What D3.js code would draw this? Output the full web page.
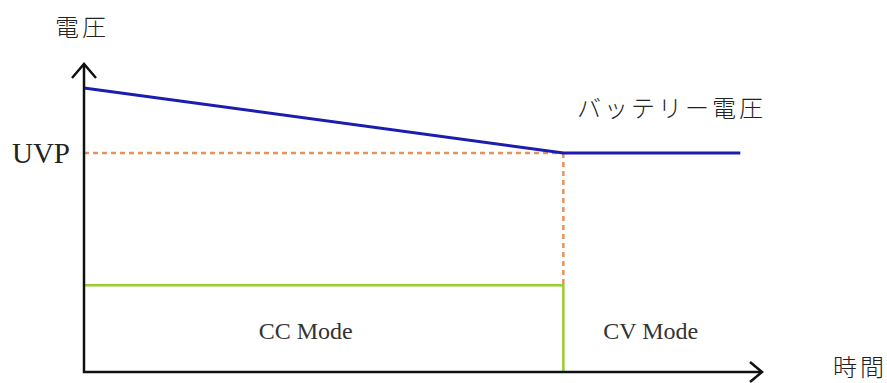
<!DOCTYPE html>
<html>
<head>
<meta charset="utf-8">
<script src="https://cdn.jsdelivr.net/npm/d3@7"></script>
<style>
  html, body { margin: 0; padding: 0; background: #fff; }
  svg { display: block; }
</style>
</head>
<body>
<div id="chart"></div>
<script>
/* CC / CV mode diagram: battery voltage over time */

const batteryTime = [0, 7.07, 9.68];
const batteryVolt = [9.22, 7.11, 7.11];
const uvpLevel = 7.11;
const switchTime = 7.07;
const ccLevel = 2.82;
const modeLabels = ["CC Mode", "CV Mode"];
const modeCenters = [3.27, 8.36];

const W = 887, H = 383;
const svg = d3.select("#chart").append("svg")
  .attr("width", W).attr("height", H);

const x = d3.scaleLinear().domain([0, 10]).range([84, 762]);
const y = d3.scaleLinear().domain([0, 10]).range([372, 64]);

const jp = "'Noto Sans CJK JP', sans-serif";
const serif = "'Liberation Serif', 'DejaVu Serif', serif";

/* Orange dashed UVP guides */
svg.append("line")
  .attr("x1", x(0)).attr("x2", x(switchTime))
  .attr("y1", y(uvpLevel)).attr("y2", y(uvpLevel))
  .attr("stroke", "#e8925a").attr("stroke-width", 2.5)
  .attr("stroke-dasharray", "5,4");
svg.append("line")
  .attr("x1", x(switchTime)).attr("x2", x(switchTime))
  .attr("y1", y(uvpLevel)).attr("y2", y(ccLevel))
  .attr("stroke", "#e8925a").attr("stroke-width", 2.5)
  .attr("stroke-dasharray", "5,4");

/* Green CC current line */
svg.append("path")
  .attr("d", d3.line()([[x(0), y(ccLevel)], [x(switchTime), y(ccLevel)], [x(switchTime), y(0)]]))
  .attr("fill", "none")
  .attr("stroke", "#9acd32").attr("stroke-width", 2.5);

/* Blue battery voltage */
const line = d3.line().x(d => x(d[0])).y(d => y(d[1]));
svg.append("path")
  .datum(batteryTime.map((t, i) => [t, batteryVolt[i]]))
  .attr("d", line)
  .attr("fill", "none")
  .attr("stroke", "#1c1cb0").attr("stroke-width", 3);

/* Axes with open arrowheads */
const axisPath = d3.path();
axisPath.moveTo(x(0), y(10));
axisPath.lineTo(x(0), y(0));
axisPath.lineTo(x(10), y(0));
svg.append("path").attr("d", axisPath.toString())
  .attr("fill", "none").attr("stroke", "#111").attr("stroke-width", 2.5);

svg.append("path")
  .attr("d", `M${x(0) - 12},${y(10) + 14}L${x(0)},${y(10)}L${x(0) + 12},${y(10) + 14}`)
  .attr("fill", "none").attr("stroke", "#111").attr("stroke-width", 2.5);
svg.append("path")
  .attr("d", `M${x(10) - 12},${y(0) - 10}L${x(10)},${y(0)}L${x(10) - 12},${y(0) + 10}`)
  .attr("fill", "none").attr("stroke", "#111").attr("stroke-width", 2.5);

/* Labels */
const jpText = (tx, ty, s) => svg.append("text")
  .attr("x", tx).attr("y", ty)
  .style("font-family", jp).style("font-size", "24px").style("font-weight", 300)
  .style("letter-spacing", "3px")
  .attr("fill", "#222")
  .text(s);

jpText(55, 36, "電圧");
jpText(833, 376, "時間");
jpText(577, 117, "バッテリー電圧");

svg.append("text")
  .attr("x", 70).attr("y", y(uvpLevel))
  .attr("dy", "0.35em")
  .attr("text-anchor", "end")
  .style("font-family", serif).style("font-size", "29px")
  .attr("fill", "#222")
  .text("UVP");

svg.selectAll("text.mode")
  .data(modeLabels)
  .join("text")
    .attr("class", "mode")
    .attr("x", (d, i) => x(modeCenters[i]))
    .attr("y", 331)
    .attr("dy", "0.35em")
    .attr("text-anchor", "middle")
    .style("font-family", serif).style("font-size", "24px")
    .attr("fill", "#333")
    .text(d => d);
</script>
</body>
</html>
